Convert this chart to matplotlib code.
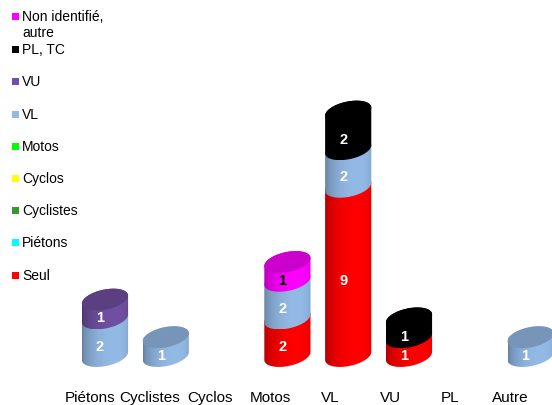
import numpy as np
import matplotlib
matplotlib.use("Agg")
import matplotlib.pyplot as plt
from matplotlib.patches import Polygon, Rectangle
from matplotlib.colors import to_rgb

plt.rcParams['font.family'] = ['Liberation Sans', 'DejaVu Sans']

# ---------------- data ----------------
categories = ['Piétons', 'Cyclistes', 'Cyclos', 'Motos', 'VL', 'VU', 'PL', 'Autre']
series_names = ['Seul', 'Piétons', 'Cyclistes', 'Cyclos', 'Motos', 'VL', 'VU',
                'PL, TC', 'Non identifié,\nautre']
seul      = [0, 0, 0, 2, 9, 1, 0, 0]
pietons   = [0, 0, 0, 0, 0, 0, 0, 0]
cyclistes = [0, 0, 0, 0, 0, 0, 0, 0]
cyclos    = [0, 0, 0, 0, 0, 0, 0, 0]
motos     = [0, 0, 0, 0, 0, 0, 0, 0]
vl        = [2, 1, 0, 2, 2, 0, 0, 1]
vu        = [1, 0, 0, 0, 0, 0, 0, 0]
pl_tc     = [0, 0, 0, 0, 2, 1, 0, 0]
non_ident = [0, 0, 0, 1, 0, 0, 0, 0]
series_values = [seul, pietons, cyclistes, cyclos, motos, vl, vu, pl_tc, non_ident]
series_colors = ['#FF0000', '#00FFFF', '#339933', '#FFFF00', '#00FF00',
                 '#93BAE6', '#7050A0', '#000000', '#FF00FF']
label_colors = ['white'] * 8 + ['black']

# ---------------- figure ----------------
W, H = 552, 406
fig = plt.figure(figsize=(W / 100, H / 100), dpi=100)
ax = fig.add_axes([0, 0, 1, 1])
ax.set_axis_off()

sx = 60.0   # px per category
sy = 18.8   # px per unit
x0_px, base_px = 90.0, 357.0
xmin, xmax = -x0_px / sx, (W - x0_px) / sx
ymax, ymin = base_px / sy, -(H - base_px) / sy
ax.set_xlim(xmin, xmax)
ax.set_ylim(ymin, ymax)

# ellipse geometry in pixels
a, b, theta = 23.5, 10.0, np.deg2rad(12)
t_r = -np.arctan(b * np.tan(theta) / a)
t_l = t_r + np.pi

def ell(t):
    ex = a * np.cos(t) * np.cos(theta) - b * np.sin(t) * np.sin(theta)
    ey = a * np.cos(t) * np.sin(theta) + b * np.sin(t) * np.cos(theta)
    return ex / sx, ey / sy

ext_x = ell(np.array([t_r]))[0][0]
vspan = np.sqrt((a * np.sin(theta)) ** 2 + (b * np.cos(theta)) ** 2) / sy

def shade_img(color, n=80):
    c = np.array(to_rgb(color))
    u = np.linspace(-0.999, 0.999, n)
    phi = np.arcsin(u)
    s = 0.76 + 0.24 * np.cos(phi - 0.4)
    img = np.clip(c[None, :] * s[:, None], 0, 1)
    return img[None, :, :]

z = 1
for i, cat in enumerate(categories):
    c = i + (15 + 0.8 * i) / sx
    bottom = 0.0
    stack = [(k, series_values[k][i]) for k in range(len(series_values)) if series_values[k][i] > 0]
    for j, (k, v) in enumerate(stack):
        y0, y1 = bottom, bottom + v
        tb = np.linspace(t_l, t_r + 2 * np.pi, 100)
        tt = np.linspace(t_r, t_l, 100)
        bx, by = ell(tb)
        tx, ty = ell(tt)
        pts = np.concatenate([np.column_stack([c + bx, y0 + by]),
                              np.column_stack([c + tx, y1 + ty])])
        poly = Polygon(pts, closed=True, facecolor='none', edgecolor='none', zorder=z)
        ax.add_patch(poly)
        im = ax.imshow(shade_img(series_colors[k]), extent=[c - ext_x, c + ext_x, y0 - vspan, y1 + vspan],
                       aspect='auto', interpolation='bilinear', zorder=z)
        im.set_clip_path(poly)
        z += 1
        if j == len(stack) - 1:
            ta = np.linspace(0, 2 * np.pi, 200)
            ex, ey = ell(ta)
            top_col = np.clip(np.array(to_rgb(series_colors[k])) * 0.8, 0, 1)
            ax.add_patch(Polygon(np.column_stack([c + ex, y1 + ey]), closed=True,
                                 facecolor=top_col, edgecolor='none', zorder=z))
            z += 1
        ax.text(c - 5 / sx, (y0 + y1) / 2 - 8.5 / sy, str(v), color=label_colors[k],
                fontsize=10.5, fontweight='bold', ha='center', va='center', zorder=200)
        bottom = y1
    ax.text(i, -(398 - base_px) / sy, cat, fontsize=11, ha='center', va='center', color='black')

ax.set_xlim(xmin, xmax)
ax.set_ylim(ymin, ymax)

# ---------------- legend ----------------
leg_y = [25, 50, 82, 115, 147, 179, 211, 243, 276]
marker_y = [17, 50, 82, 115, 147, 179, 211, 243, 276]
for k in range(len(series_names) - 1, -1, -1):
    row = len(series_names) - 1 - k
    my = marker_y[row]
    fig.patches.append(Rectangle(((12) / W, 1 - (my + 3.5) / H), 7 / W, 7 / H,
                                 transform=fig.transFigure, facecolor=series_colors[k],
                                 edgecolor='none'))
    fig.text(22 / W, 1 - leg_y[row] / H, series_names[k], fontsize=10,
             ha='left', va='center', linespacing=1.2)

fig.savefig('out.png', dpi=100)
